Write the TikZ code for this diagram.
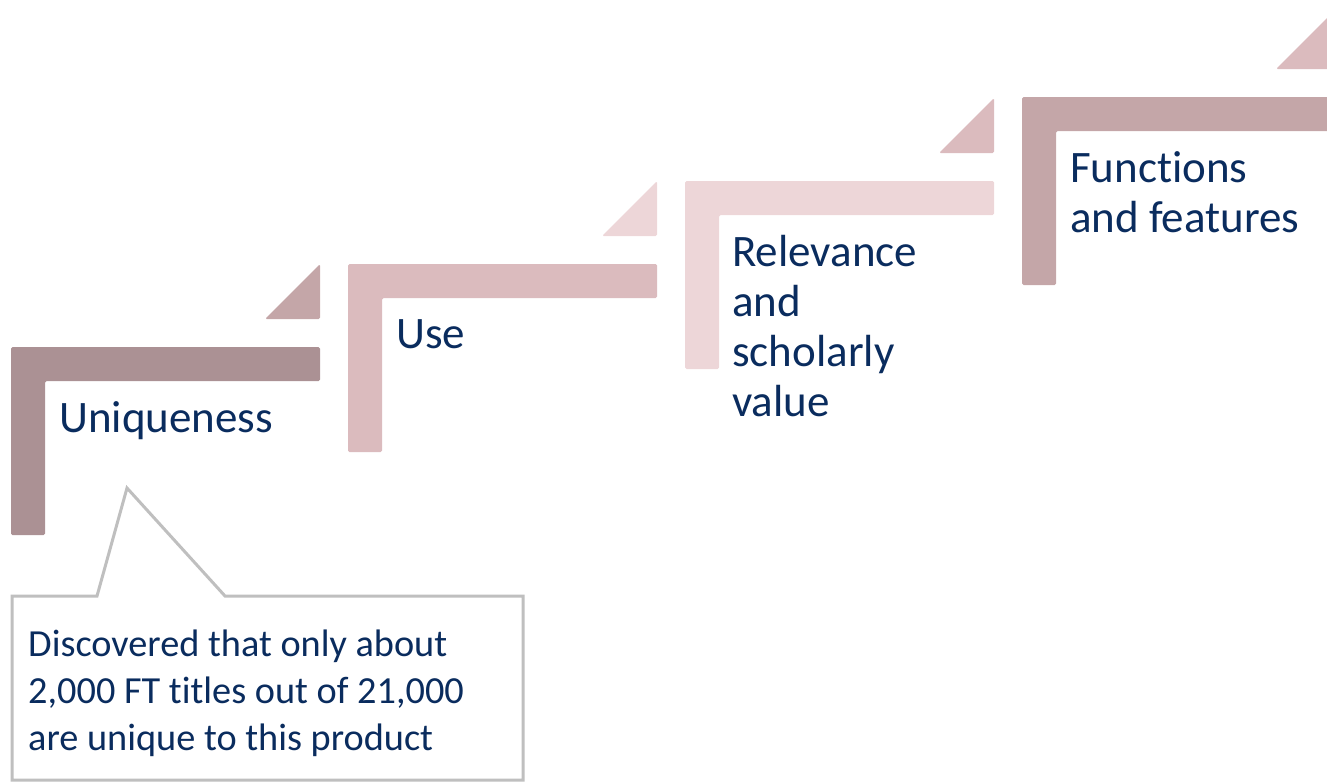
\documentclass[tikz,border=0pt]{standalone}
\usepackage{fontspec}
\setmainfont{Carlito}[Ligatures=NoCommon]
\definecolor{cA}{HTML}{AB9194}
\definecolor{cB}{HTML}{C4A6A8}
\definecolor{cC}{HTML}{DBBBBE}
\definecolor{cD}{HTML}{EDD6D8}
\definecolor{navy}{HTML}{0A2C5E}
\definecolor{callgray}{HTML}{BFBFBF}
\tikzset{
  lbar/.style={fill=#1, draw=none, rounded corners=1.5pt},
  tri/.style={fill=#1, draw=none, rounded corners=1.5pt},
  steptext/.style={anchor=base west, inner sep=0pt, text=navy, font=\fontsize{45}{50}\selectfont, align=left},
  calltext/.style={anchor=base west, inner sep=0pt, text=navy, font=\fontsize{38.3}{47}\selectfont, align=left},
  callbox/.style={draw=callgray, line width=3pt, fill=white, line join=miter}
}
\newcommand{\Lshape}[3]{%
  \fill[lbar=#3] (#1,#2+188) -- (#1,#2) -- (#1+309,#2) -- (#1+309,#2+34) -- (#1+34,#2+34) -- (#1+34,#2+188) -- cycle;}
\newcommand{\Tshape}[3]{%
  \fill[tri=#3] (#1+254,#2-28) -- (#1+309,#2-28) -- (#1+309,#2-83) -- cycle;}
\begin{document}
\begin{tikzpicture}[x=1pt,y=-1pt]
\useasboundingbox (0,0) rectangle (1327,782);
% step shapes: L bar + triangle
\Lshape{11}{347}{cA}\Tshape{11}{347}{cB}
\Lshape{348}{264}{cC}\Tshape{348}{264}{cD}
\Lshape{685}{181}{cD}\Tshape{685}{181}{cC}
\Lshape{1022}{97}{cB}\Tshape{1022}{97}{cC}
% texts (base anchor = baseline of the last line)
\node[steptext] (s1) at (59,432) {Uniqueness};
\node[steptext] (s2) at (396,348) {Use};
\node[steptext] (s3) at (732,416) {Relevance\\and\\scholarly\\value};
\node[steptext] (s4) at (1070,232) {Functions\\and features};
% callout
\draw[callbox] (12,596) -- (97,596) -- (127,488) -- (225,596) -- (523,596) -- (523,780) -- (12,780) -- cycle;
\node[calltext] (c1) at (28,750) {Discovered that only about\\2,000 FT titles out of 21,000\\are unique to this product};
\end{tikzpicture}
\end{document}
